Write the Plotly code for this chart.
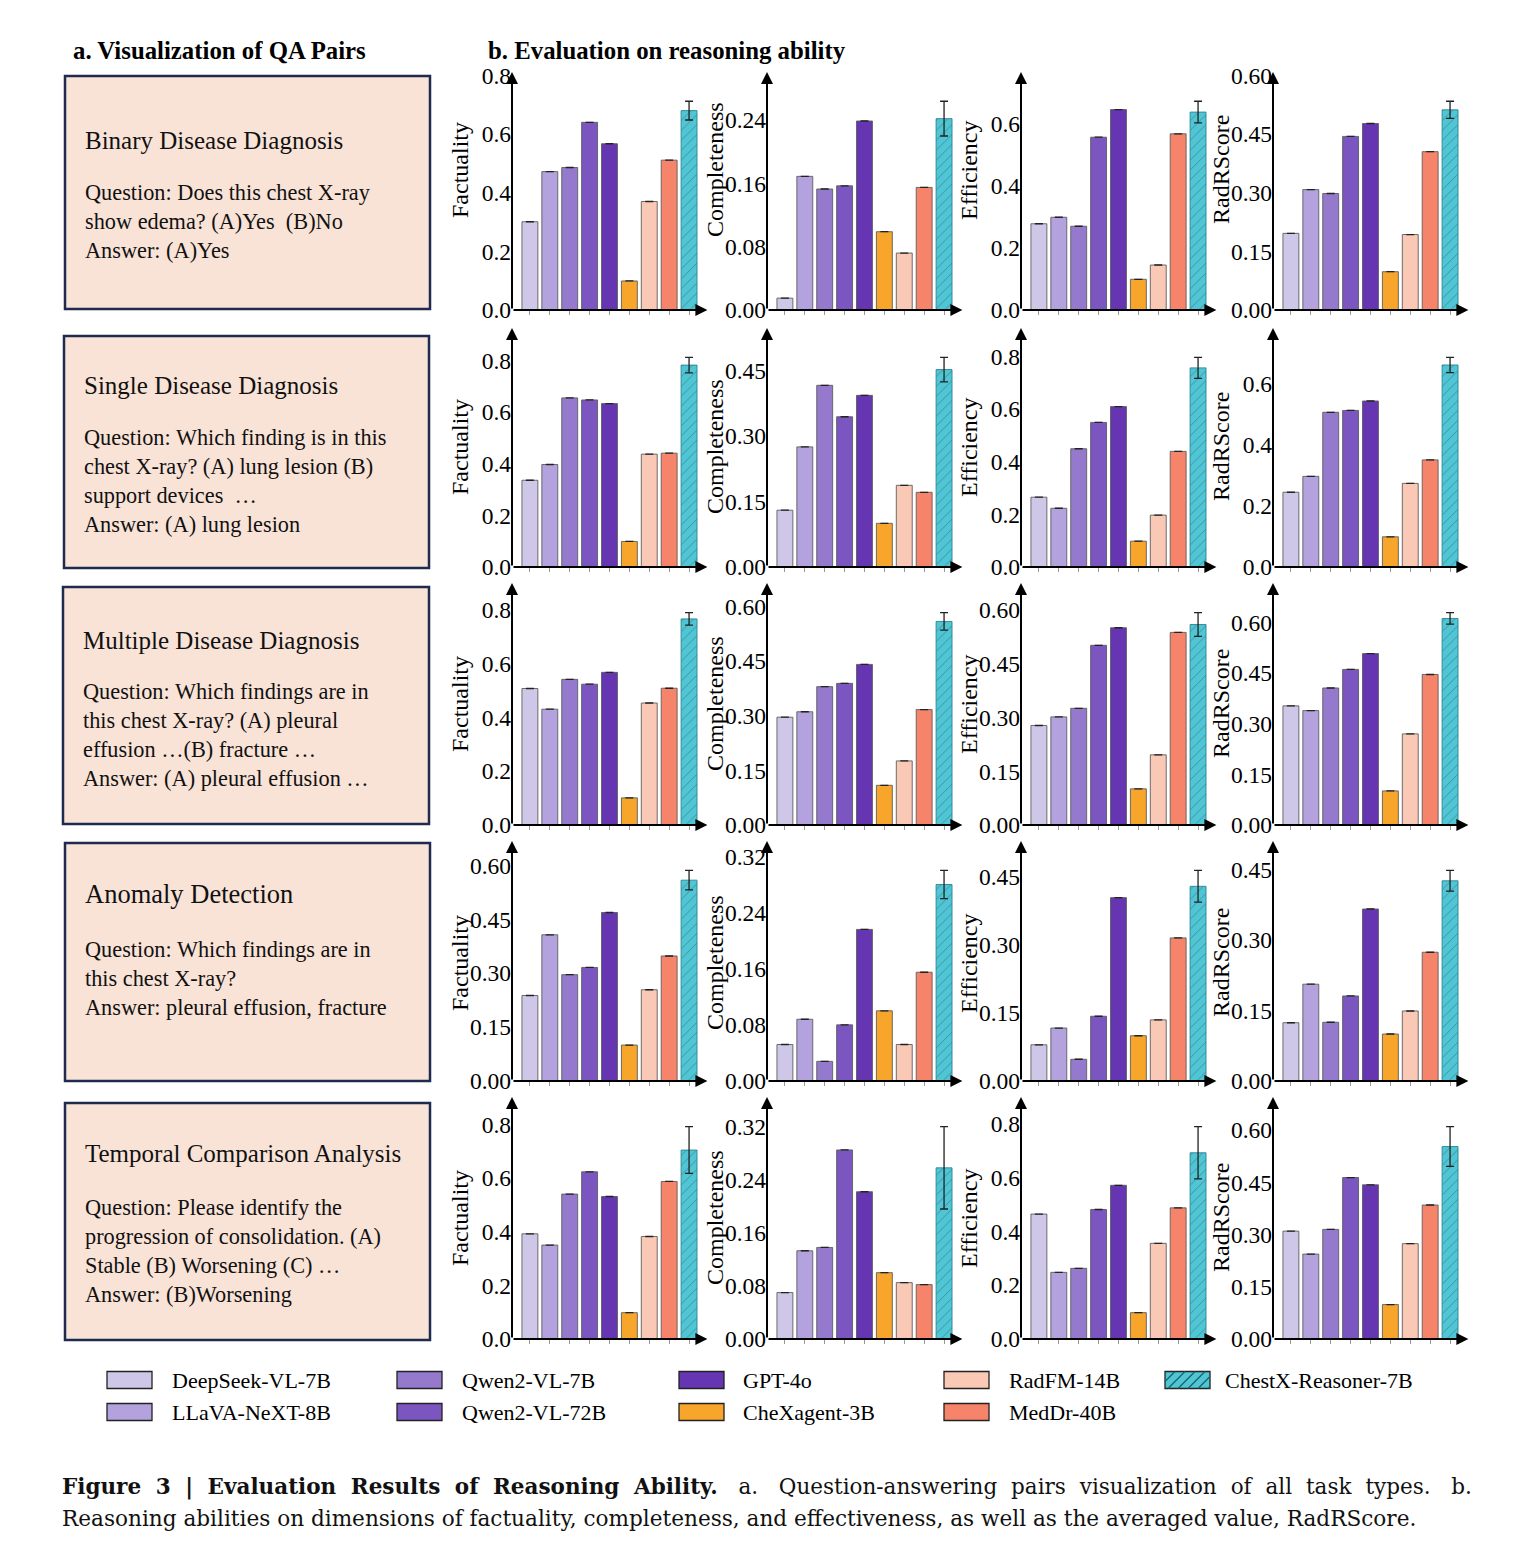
import plotly.graph_objects as go

W, H = 1527, 1563

MODELS = ["DeepSeek-VL-7B", "LLaVA-NeXT-8B", "Qwen2-VL-7B", "Qwen2-VL-72B", "GPT-4o",
          "CheXagent-3B", "RadFM-14B", "MedDr-40B", "ChestX-Reasoner-7B"]
COLORS = ["#CFC7E7", "#B3A2DD", "#9479CC", "#7B55C0", "#6535B2",
          "#F7A52B", "#FAC9B6", "#F6846A", "#4EC6D5"]
METRICS = ["Factuality", "Completeness", "Efficiency", "RadRScore"]

binary_factuality = [0.301, 0.472, 0.486, 0.640, 0.567, 0.099, 0.370, 0.511, 0.680]
binary_completeness = [0.015, 0.169, 0.153, 0.157, 0.239, 0.099, 0.072, 0.155, 0.242]
binary_efficiency = [0.278, 0.299, 0.270, 0.557, 0.646, 0.099, 0.145, 0.568, 0.638]
binary_radrscore = [0.196, 0.308, 0.298, 0.444, 0.477, 0.098, 0.193, 0.405, 0.512]
binary_err = [0.032, 0.022, 0.035, 0.022]

single_factuality = [0.336, 0.397, 0.655, 0.647, 0.633, 0.099, 0.437, 0.441, 0.782]
single_completeness = [0.130, 0.275, 0.416, 0.344, 0.393, 0.100, 0.187, 0.171, 0.452]
single_efficiency = [0.265, 0.223, 0.449, 0.549, 0.609, 0.098, 0.197, 0.439, 0.756]
single_radrscore = [0.245, 0.297, 0.507, 0.513, 0.544, 0.099, 0.274, 0.351, 0.662]
single_err = [0.030, 0.028, 0.040, 0.025]

multiple_factuality = [0.508, 0.431, 0.542, 0.524, 0.568, 0.101, 0.454, 0.509, 0.767]
multiple_completeness = [0.296, 0.311, 0.380, 0.389, 0.441, 0.109, 0.176, 0.317, 0.559]
multiple_efficiency = [0.278, 0.302, 0.326, 0.502, 0.551, 0.101, 0.196, 0.538, 0.560]
multiple_radrscore = [0.353, 0.339, 0.406, 0.461, 0.508, 0.101, 0.270, 0.446, 0.612]
multiple_err = [0.023, 0.024, 0.033, 0.017]

anomaly_factuality = [0.238, 0.407, 0.296, 0.316, 0.469, 0.100, 0.254, 0.348, 0.559]
anomaly_completeness = [0.052, 0.088, 0.028, 0.080, 0.216, 0.100, 0.052, 0.155, 0.280]
anomaly_efficiency = [0.080, 0.117, 0.048, 0.143, 0.405, 0.100, 0.135, 0.316, 0.430]
anomaly_radrscore = [0.124, 0.206, 0.125, 0.181, 0.366, 0.100, 0.149, 0.274, 0.426]
anomaly_err = [0.027, 0.020, 0.035, 0.022]

temporal_factuality = [0.392, 0.350, 0.540, 0.623, 0.531, 0.098, 0.382, 0.587, 0.704]
temporal_completeness = [0.070, 0.133, 0.138, 0.285, 0.222, 0.100, 0.085, 0.082, 0.258]
temporal_efficiency = [0.465, 0.248, 0.263, 0.482, 0.572, 0.098, 0.356, 0.488, 0.693]
temporal_radrscore = [0.310, 0.244, 0.315, 0.464, 0.443, 0.099, 0.274, 0.385, 0.553]
temporal_err = [0.087, 0.062, 0.097, 0.057]

TASK_DATA = [
    ([binary_factuality, binary_completeness, binary_efficiency, binary_radrscore], binary_err),
    ([single_factuality, single_completeness, single_efficiency, single_radrscore], single_err),
    ([multiple_factuality, multiple_completeness, multiple_efficiency, multiple_radrscore], multiple_err),
    ([anomaly_factuality, anomaly_completeness, anomaly_efficiency, anomaly_radrscore], anomaly_err),
    ([temporal_factuality, temporal_completeness, temporal_efficiency, temporal_radrscore], temporal_err),
]

TICK_STEPS = [[0.2, 0.08, 0.2, 0.15],
              [0.2, 0.15, 0.2, 0.2],
              [0.2, 0.15, 0.15, 0.15],
              [0.15, 0.08, 0.15, 0.15],
              [0.2, 0.08, 0.2, 0.15]]

BOX_TITLES = ["Binary Disease Diagnosis", "Single Disease Diagnosis", "Multiple Disease Diagnosis",
              "Anomaly Detection", "Temporal Comparison Analysis"]
BOX_BODIES = [
    ["Question: Does this chest X-ray", "show edema? (A)Yes \u00a0(B)No", "Answer: (A)Yes"],
    ["Question: Which finding is in this", "chest X-ray? (A) lung lesion (B)", "support devices \u00a0\u2026", "Answer: (A) lung lesion"],
    ["Question: Which findings are in", "this chest X-ray? (A) pleural", "effusion \u2026(B) fracture \u2026", "Answer: (A) pleural effusion \u2026"],
    ["Question: Which findings are in", "this chest X-ray?", "Answer: pleural effusion, fracture"],
    ["Question: Please identify the", "progression of consolidation. (A)", "Stable (B) Worsening (C) \u2026", "Answer: (B)Worsening"],
]

# ---------------- layout geometry (pixels) ----------------
COL_X0 = [512, 767, 1021, 1273]
PLOT_W = 188
ROW_BOT = [310, 567, 825, 1081, 1339]
ROW_TOP = [72, 328, 583, 841, 1097]
TITLE_Y = [170, 447, 704, 963, 1218]
XR = [-0.9, 8.55]
SERIF = "Liberation Serif"


def px(x):
    return x / W


def py(y):
    return 1 - y / H


fig = go.Figure()
annotations = []
shapes = []
layout_axes = {}

for i, (series, errs) in enumerate(TASK_DATA):
    for j, vals in enumerate(series):
        idx = i * 4 + j + 1
        xs = "x" if idx == 1 else f"x{idx}"
        ys = "y" if idx == 1 else f"y{idx}"
        err_arr = [errs[j] if m == "ChestX-Reasoner-7B" else 0.0 for m in MODELS]
        shapes_pat = ["/" if m == "ChestX-Reasoner-7B" else "" for m in MODELS]
        line_cols = ["#2B8593" if m == "ChestX-Reasoner-7B" else "#5e5e5e" for m in MODELS]
        fig.add_trace(go.Bar(
            x=list(range(len(MODELS))), y=vals, width=0.8,
            marker=dict(color=COLORS, line=dict(color=line_cols, width=0.9),
                        pattern=dict(shape=shapes_pat, fillmode="overlay", fgcolor="#2C8290",
                                     size=7, solidity=0.12)),
            error_y=dict(type="data", array=err_arr, color="#222222", thickness=1.3, width=4),
            xaxis=xs, yaxis=ys, showlegend=False, hoverinfo="skip",
        ))
        top = 1.14 * max(v + e for v, e in zip(vals, err_arr))
        step = TICK_STEPS[i][j]
        fmt = ".1f" if step in (0.2,) else ".2f"
        tv = []
        k = 0
        while k * step <= top + 1e-9:
            tv.append(round(k * step, 4))
            k += 1
        x0 = COL_X0[j]
        layout_axes["xaxis" if idx == 1 else f"xaxis{idx}"] = dict(
            domain=[px(x0), px(x0 + PLOT_W)], range=XR, anchor=ys, automargin=False,
            tickvals=list(range(len(MODELS))), ticks="outside", ticklen=4, tickwidth=1,
            tickcolor="#9a9a9a", showticklabels=False, showgrid=False, zeroline=False,
            showline=False, fixedrange=True)
        layout_axes["yaxis" if idx == 1 else f"yaxis{idx}"] = dict(
            domain=[py(ROW_BOT[i]), py(ROW_TOP[i])], range=[0, top], anchor=xs,
            automargin=False, tickvals=tv, tickformat=fmt, ticks="", showgrid=False,
            zeroline=False, showline=False,
            tickfont=dict(family=SERIF, size=23.5, color="black"), fixedrange=True)
        # axis arrows
        annotations.append(dict(x=XR[0], y=top, ax=XR[0], ay=0, xref=xs, yref=ys,
                                axref=xs, ayref=ys, showarrow=True, arrowhead=2,
                                arrowsize=1.2, arrowwidth=2, arrowcolor="black", text=""))
        annotations.append(dict(x=8.92, y=0, ax=XR[0], ay=0, xref=xs, yref=ys,
                                axref=xs, ayref=ys, showarrow=True, arrowhead=2,
                                arrowsize=1.2, arrowwidth=2, arrowcolor="black", text=""))
        # axis titles
        annotations.append(dict(x=px(x0 - 52), y=py(TITLE_Y[i]), xref="paper", yref="paper",
                                text=METRICS[j], textangle=-90, showarrow=False,
                                font=dict(family=SERIF, size=24, color="black"),
                                xanchor="center", yanchor="middle"))

# ---------------- left panel ----------------
BOXES = [(65, 76, 430, 309), (64, 336, 429, 568), (63, 587, 429, 824),
         (65, 843, 430, 1081), (65, 1103, 430, 1340)]
BOX_TITLE_Y = [140, 386, 640, 894, 1153]
BOX_BODY_Y = [222, 481, 734.5, 978.5, 1251]
BOX_TITLE_SIZE = [25, 25, 25, 26.5, 25]
for b, (x0, y0, x1, y1) in enumerate(BOXES):
    shapes.append(dict(type="rect", xref="paper", yref="paper", x0=px(x0), x1=px(x1),
                       y0=py(y1), y1=py(y0), fillcolor="#F9E3D7",
                       line=dict(color="#1E2B4E", width=2.5), layer="below"))
    annotations.append(dict(x=px(x0 + 18), y=py(BOX_TITLE_Y[b]), xref="paper", yref="paper",
                            text=BOX_TITLES[b], showarrow=False, xanchor="left", yanchor="middle",
                            font=dict(family=SERIF, size=BOX_TITLE_SIZE[b], color="#111")))
    annotations.append(dict(x=px(x0 + 18), y=py(BOX_BODY_Y[b]), xref="paper", yref="paper",
                            text="<br>".join(BOX_BODIES[b]), showarrow=False, align="left",
                            xanchor="left", yanchor="middle",
                            font=dict(family=SERIF, size=22.3, color="#111")))

annotations.append(dict(x=px(71), y=py(50), xref="paper", yref="paper",
                        text="<b>a. Visualization of QA Pairs</b>", showarrow=False,
                        xanchor="left", yanchor="middle",
                        font=dict(family=SERIF, size=24.8, color="black")))
annotations.append(dict(x=px(486), y=py(50), xref="paper", yref="paper",
                        text="<b>b. Evaluation on reasoning ability</b>", showarrow=False,
                        xanchor="left", yanchor="middle",
                        font=dict(family=SERIF, size=24.8, color="black")))

# ---------------- legend (manual, column-major) ----------------
LEG_SW_X = [107, 397, 679, 944, 1165]
LEG_TX_X = [170, 460, 741, 1007, 1223]
LEG_ROW_Y = [1380, 1412]
for n, (name, col) in enumerate(zip(MODELS, COLORS)):
    c, r = n // 2, n % 2
    sx, cy = LEG_SW_X[c], LEG_ROW_Y[r]
    sx1, ytop, ybot = sx + 45, cy - 8.5, cy + 8.5
    shapes.append(dict(type="rect", xref="paper", yref="paper", x0=px(sx), x1=px(sx1),
                       y0=py(ybot), y1=py(ytop), fillcolor=col,
                       line=dict(color="#222", width=1.3)))
    if name == "ChestX-Reasoner-7B":
        hgt = ybot - ytop
        for s in range(int(sx) - 17, int(sx1), 10):
            xa = max(s, sx)
            xb = min(s + hgt, sx1)
            if xb <= xa:
                continue
            shapes.append(dict(type="line", xref="paper", yref="paper",
                               x0=px(xa), y0=py(ybot - (xa - s)), x1=px(xb), y1=py(ybot - (xb - s)),
                               line=dict(color="#1f5f69", width=1.2)))
    annotations.append(dict(x=px(LEG_TX_X[c]), y=py(cy), xref="paper", yref="paper",
                            text=name, showarrow=False, xanchor="left", yanchor="middle",
                            font=dict(family=SERIF, size=22, color="black")))

# ---------------- caption ----------------
SP = " \u2004"
CAP1_WORDS = ["<b>Figure", "3", "|", "Evaluation", "Results", "of", "Reasoning", "Ability.</b>",
              "\u00a0a.", "\u00a0Question-answering", "pairs", "visualization", "of", "all", "task",
              "types.", "\u00a0b."]
CAP1 = SP.join(CAP1_WORDS)
CAP2 = ("Reasoning abilities on dimensions of factuality, completeness, and effectiveness, "
        "as well as the averaged value, RadRScore.")
annotations.append(dict(x=px(60), y=py(1487), xref="paper", yref="paper", text=CAP1,
                        showarrow=False, xanchor="left", yanchor="middle",
                        font=dict(family="DejaVu Serif", size=21.5, color="#111")))
annotations.append(dict(x=px(60), y=py(1518), xref="paper", yref="paper", text=CAP2,
                        showarrow=False, xanchor="left", yanchor="middle",
                        font=dict(family="DejaVu Serif", size=21.6, color="#111")))

fig.update_layout(
    width=W, height=H, margin=dict(l=0, r=0, t=0, b=0, pad=0), autosize=False,
    plot_bgcolor="white", paper_bgcolor="white", showlegend=False,
    barmode="group", annotations=annotations, shapes=shapes, **layout_axes,
)

fig.write_html("out.html", config={"displayModeBar": False},
               post_script="document.body.style.margin='0px';document.body.style.overflow='hidden';")
